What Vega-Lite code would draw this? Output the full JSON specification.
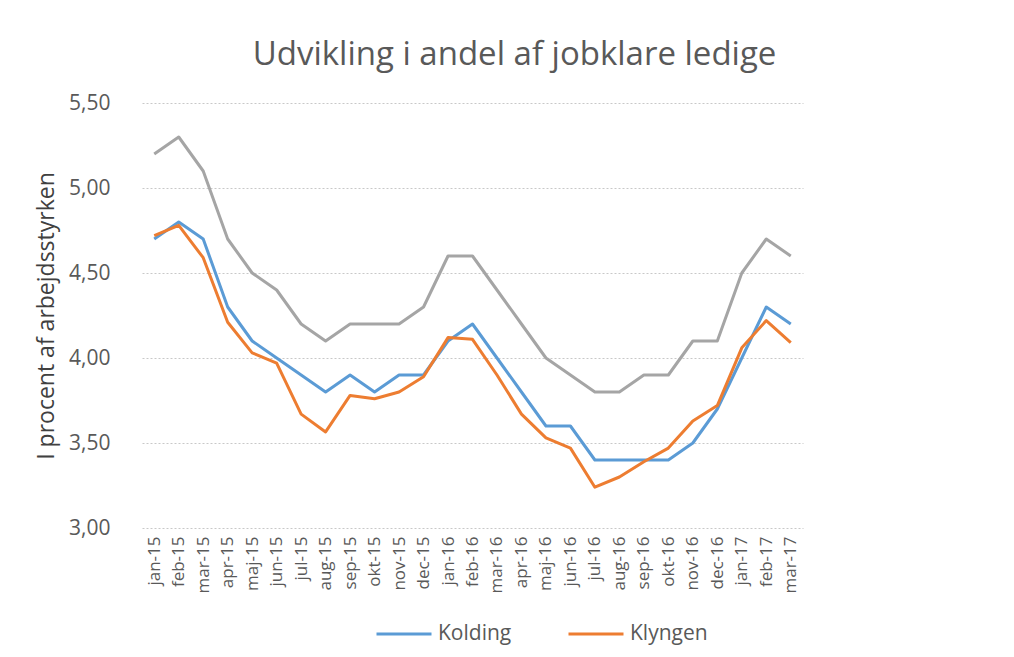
{
  "$schema": "https://vega.github.io/schema/vega-lite/v6.json",
  "width": 661,
  "height": 425,
  "autosize": {"type": "none"},
  "padding": {"left": 142, "top": 103, "right": 211, "bottom": 129},
  "background": "white",
  "config": {
    "locale": {"number": {"decimal": ",", "thousands": ".", "grouping": [3], "currency": ["", " kr."]}},
    "view": {"stroke": null},
    "font": "Open Sans"
  },
  "title": {
    "text": "Udvikling i andel af jobklare ledige",
    "fontSize": 33,
    "fontWeight": "normal",
    "color": "#595959",
    "font": "Open Sans",
    "anchor": "middle",
    "dx": 42,
    "offset": 20
  },
  "data": {
    "values": [
      {"m": "jan-15", "i": 0, "s": "Kolding", "v": 4.70}, {"m": "jan-15", "i": 0, "s": "Klyngen", "v": 4.72}, {"m": "jan-15", "i": 0, "s": "Hele landet", "v": 5.20},
      {"m": "feb-15", "i": 1, "s": "Kolding", "v": 4.80}, {"m": "feb-15", "i": 1, "s": "Klyngen", "v": 4.78}, {"m": "feb-15", "i": 1, "s": "Hele landet", "v": 5.30},
      {"m": "mar-15", "i": 2, "s": "Kolding", "v": 4.70}, {"m": "mar-15", "i": 2, "s": "Klyngen", "v": 4.59}, {"m": "mar-15", "i": 2, "s": "Hele landet", "v": 5.10},
      {"m": "apr-15", "i": 3, "s": "Kolding", "v": 4.30}, {"m": "apr-15", "i": 3, "s": "Klyngen", "v": 4.21}, {"m": "apr-15", "i": 3, "s": "Hele landet", "v": 4.70},
      {"m": "maj-15", "i": 4, "s": "Kolding", "v": 4.10}, {"m": "maj-15", "i": 4, "s": "Klyngen", "v": 4.03}, {"m": "maj-15", "i": 4, "s": "Hele landet", "v": 4.50},
      {"m": "jun-15", "i": 5, "s": "Kolding", "v": 4.00}, {"m": "jun-15", "i": 5, "s": "Klyngen", "v": 3.97}, {"m": "jun-15", "i": 5, "s": "Hele landet", "v": 4.40},
      {"m": "jul-15", "i": 6, "s": "Kolding", "v": 3.90}, {"m": "jul-15", "i": 6, "s": "Klyngen", "v": 3.67}, {"m": "jul-15", "i": 6, "s": "Hele landet", "v": 4.20},
      {"m": "aug-15", "i": 7, "s": "Kolding", "v": 3.80}, {"m": "aug-15", "i": 7, "s": "Klyngen", "v": 3.565}, {"m": "aug-15", "i": 7, "s": "Hele landet", "v": 4.10},
      {"m": "sep-15", "i": 8, "s": "Kolding", "v": 3.90}, {"m": "sep-15", "i": 8, "s": "Klyngen", "v": 3.78}, {"m": "sep-15", "i": 8, "s": "Hele landet", "v": 4.20},
      {"m": "okt-15", "i": 9, "s": "Kolding", "v": 3.80}, {"m": "okt-15", "i": 9, "s": "Klyngen", "v": 3.76}, {"m": "okt-15", "i": 9, "s": "Hele landet", "v": 4.20},
      {"m": "nov-15", "i": 10, "s": "Kolding", "v": 3.90}, {"m": "nov-15", "i": 10, "s": "Klyngen", "v": 3.80}, {"m": "nov-15", "i": 10, "s": "Hele landet", "v": 4.20},
      {"m": "dec-15", "i": 11, "s": "Kolding", "v": 3.90}, {"m": "dec-15", "i": 11, "s": "Klyngen", "v": 3.89}, {"m": "dec-15", "i": 11, "s": "Hele landet", "v": 4.30},
      {"m": "jan-16", "i": 12, "s": "Kolding", "v": 4.10}, {"m": "jan-16", "i": 12, "s": "Klyngen", "v": 4.12}, {"m": "jan-16", "i": 12, "s": "Hele landet", "v": 4.60},
      {"m": "feb-16", "i": 13, "s": "Kolding", "v": 4.20}, {"m": "feb-16", "i": 13, "s": "Klyngen", "v": 4.11}, {"m": "feb-16", "i": 13, "s": "Hele landet", "v": 4.60},
      {"m": "mar-16", "i": 14, "s": "Kolding", "v": 4.00}, {"m": "mar-16", "i": 14, "s": "Klyngen", "v": 3.90}, {"m": "mar-16", "i": 14, "s": "Hele landet", "v": 4.40},
      {"m": "apr-16", "i": 15, "s": "Kolding", "v": 3.80}, {"m": "apr-16", "i": 15, "s": "Klyngen", "v": 3.67}, {"m": "apr-16", "i": 15, "s": "Hele landet", "v": 4.20},
      {"m": "maj-16", "i": 16, "s": "Kolding", "v": 3.60}, {"m": "maj-16", "i": 16, "s": "Klyngen", "v": 3.53}, {"m": "maj-16", "i": 16, "s": "Hele landet", "v": 4.00},
      {"m": "jun-16", "i": 17, "s": "Kolding", "v": 3.60}, {"m": "jun-16", "i": 17, "s": "Klyngen", "v": 3.47}, {"m": "jun-16", "i": 17, "s": "Hele landet", "v": 3.90},
      {"m": "jul-16", "i": 18, "s": "Kolding", "v": 3.40}, {"m": "jul-16", "i": 18, "s": "Klyngen", "v": 3.24}, {"m": "jul-16", "i": 18, "s": "Hele landet", "v": 3.80},
      {"m": "aug-16", "i": 19, "s": "Kolding", "v": 3.40}, {"m": "aug-16", "i": 19, "s": "Klyngen", "v": 3.30}, {"m": "aug-16", "i": 19, "s": "Hele landet", "v": 3.80},
      {"m": "sep-16", "i": 20, "s": "Kolding", "v": 3.40}, {"m": "sep-16", "i": 20, "s": "Klyngen", "v": 3.39}, {"m": "sep-16", "i": 20, "s": "Hele landet", "v": 3.90},
      {"m": "okt-16", "i": 21, "s": "Kolding", "v": 3.40}, {"m": "okt-16", "i": 21, "s": "Klyngen", "v": 3.47}, {"m": "okt-16", "i": 21, "s": "Hele landet", "v": 3.90},
      {"m": "nov-16", "i": 22, "s": "Kolding", "v": 3.50}, {"m": "nov-16", "i": 22, "s": "Klyngen", "v": 3.63}, {"m": "nov-16", "i": 22, "s": "Hele landet", "v": 4.10},
      {"m": "dec-16", "i": 23, "s": "Kolding", "v": 3.70}, {"m": "dec-16", "i": 23, "s": "Klyngen", "v": 3.72}, {"m": "dec-16", "i": 23, "s": "Hele landet", "v": 4.10},
      {"m": "jan-17", "i": 24, "s": "Kolding", "v": 4.00}, {"m": "jan-17", "i": 24, "s": "Klyngen", "v": 4.06}, {"m": "jan-17", "i": 24, "s": "Hele landet", "v": 4.50},
      {"m": "feb-17", "i": 25, "s": "Kolding", "v": 4.30}, {"m": "feb-17", "i": 25, "s": "Klyngen", "v": 4.22}, {"m": "feb-17", "i": 25, "s": "Hele landet", "v": 4.70},
      {"m": "mar-17", "i": 26, "s": "Kolding", "v": 4.20}, {"m": "mar-17", "i": 26, "s": "Klyngen", "v": 4.09}, {"m": "mar-17", "i": 26, "s": "Hele landet", "v": 4.60}
    ]
  },
  "mark": {"type": "line", "strokeWidth": 3, "strokeJoin": "round"},
  "encoding": {
    "x": {
      "field": "m",
      "type": "ordinal",
      "sort": {"field": "i"},
      "scale": {"type": "point", "padding": 0.5},
      "axis": {
        "title": null,
        "labelAngle": -90,
        "labelFontSize": 17,
        "labelColor": "#595959",
        "labelPadding": 8,
        "ticks": false,
        "domain": false,
        "grid": false
      }
    },
    "y": {
      "field": "v",
      "type": "quantitative",
      "scale": {"domain": [3, 5.5], "nice": false, "zero": false},
      "axis": {
        "values": [3, 3.5, 4, 4.5, 5, 5.5],
        "format": ".2f",
        "title": "I procent af arbejdsstyrken",
        "titleFontSize": 23,
        "titleFontWeight": "normal",
        "titleColor": "#404040",
        "titlePadding": 10,
        "labelFontSize": 21,
        "labelColor": "#595959",
        "labelPadding": 32,
        "ticks": false,
        "domain": false,
        "gridColor": "#c8c8c8",
        "gridDash": [2, 2],
        "gridWidth": 1
      }
    },
    "color": {
      "field": "s",
      "type": "nominal",
      "scale": {"domain": ["Kolding", "Klyngen", "Hele landet"], "range": ["#5B9BD5", "#ED7D31", "#A5A5A5"]},
      "legend": {
        "values": ["Kolding", "Klyngen"],
        "title": null,
        "orient": "none",
        "direction": "horizontal",
        "legendX": 233,
        "legendY": 502,
        "symbolType": "stroke",
        "symbolSize": 3025,
        "symbolStrokeWidth": 3,
        "labelFontSize": 21,
        "labelColor": "#595959",
        "labelOffset": 5,
        "columnPadding": 50
      }
    },
    "order": {"field": "i"}
  }
}
